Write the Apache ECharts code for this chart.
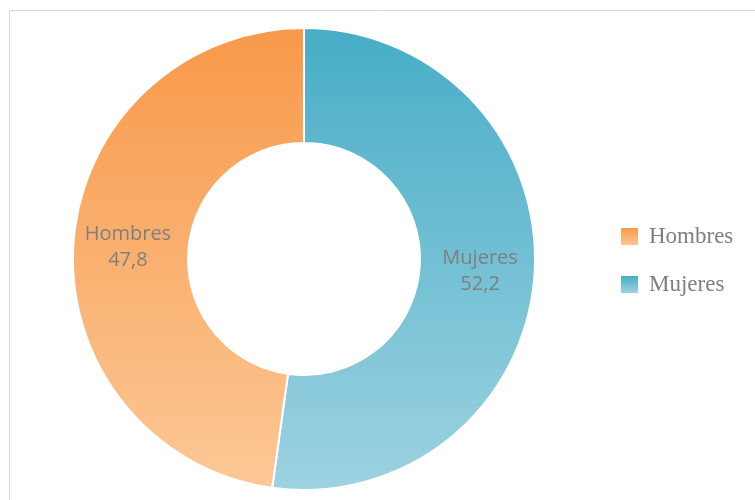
<!DOCTYPE html>
<html>
<head>
<meta charset="utf-8">
<script src="https://cdn.jsdelivr.net/npm/echarts@6/dist/echarts.min.js"></script>
<style>
  html, body { margin: 0; padding: 0; background: #fff; }
  #chart { width: 755px; height: 500px; }
</style>
</head>
<body>
<div id="chart"></div>
<script>
// Population share by sex (%)
const categories = ['Mujeres', 'Hombres'];
const values = [52.2, 47.8];
const legendOrder = ['Hombres', 'Mujeres'];

// Vertical gradients (top colour, bottom colour) per sector
const gradients = {
  Hombres: ['#f8994a', '#fcc896'],
  Mujeres: ['#47adc7', '#9dd2e1']
};

// Gradient across the whole ring (pixel coordinates of the chart)
function ringGrad(name) {
  const g = gradients[name];
  return {
    type: 'linear', x: 0, y: 28, x2: 0, y2: 490, global: true,
    colorStops: [{ offset: 0, color: g[0] }, { offset: 1, color: g[1] }]
  };
}

// Gradient within a single legend swatch
function swatchGrad(name) {
  const g = gradients[name];
  return new echarts.graphic.LinearGradient(0, 0, 0, 1, [
    { offset: 0, color: g[0] }, { offset: 1, color: g[1] }
  ]);
}

const chart = echarts.init(document.getElementById('chart'), null, { renderer: 'canvas' });

chart.setOption({
  animation: false,
  backgroundColor: '#ffffff',
  graphic: [{
    type: 'rect',
    shape: { x: 9.5, y: 10.5, width: 760, height: 510 },
    style: { fill: 'none', stroke: '#d9d9d9', lineWidth: 1 },
    silent: true
  }],
  legend: {
    data: legendOrder.map(n => ({
      name: n,
      itemStyle: { color: swatchGrad(n), borderWidth: 0 }
    })),
    orient: 'vertical',
    left: 621,
    top: 225,
    padding: 0,
    itemWidth: 17,
    itemHeight: 17,
    itemGap: 25,
    icon: 'rect',
    itemStyle: { borderWidth: 0 },
    textStyle: {
      fontFamily: 'Liberation Serif',
      fontSize: 23,
      color: '#7f7f7f',
      padding: [0, 0, 0, 6]
    }
  },
  series: [{
    type: 'pie',
    center: [304, 259],
    radius: [116, 231],
    startAngle: 90,
    clockwise: true,
    itemStyle: { borderColor: '#ffffff', borderWidth: 2 },
    label: {
      show: true,
      position: 'inside',
      formatter: p => p.name + '\n' + String(p.value).replace('.', ','),
      fontFamily: 'Open Sans',
      fontSize: 20,
      lineHeight: 26,
      color: '#7f7f7f'
    },
    labelLine: { show: false },
    emphasis: { disabled: true },
    data: categories.map((c, i) => ({
      name: c,
      value: values[i],
      itemStyle: { color: ringGrad(c) }
    }))
  }]
});
</script>
</body>
</html>
